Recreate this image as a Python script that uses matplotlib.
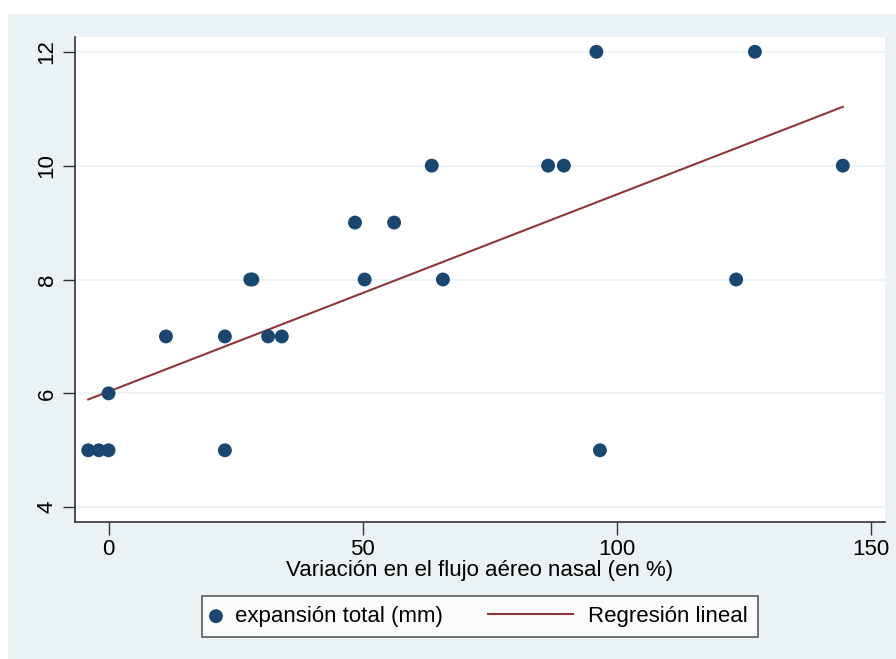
import matplotlib

matplotlib.use("Agg")
import matplotlib.pyplot as plt
import numpy as np
from matplotlib.legend_handler import HandlerLine2D
from matplotlib.patches import Rectangle

plt.rcParams["font.family"] = ["Liberation Sans", "DejaVu Sans"]

# flujo aéreo nasal (%) vs expansión total (mm)
flujo = [-4.0, -1.9, 0.0, 22.9, 96.7,
         0.0,
         11.3, 22.9, 31.4, 34.1,
         27.9, 28.3, 50.4, 65.8, 123.5,
         48.5, 56.2,
         63.6, 86.5, 89.6, 144.5,
         96.0, 127.2]
expansion = [5, 5, 5, 5, 5,
             6,
             7, 7, 7, 7,
             8, 8, 8, 8, 8,
             9, 9,
             10, 10, 10, 10,
             12, 12]
x_ticks = [0, 50, 100, 150]
y_ticks = [4, 6, 8, 10, 12]

bg = "#eaf2f3"
navy = "#1a476f"
maroon = "#90353b"
FS = 16


class LongLineHandler(HandlerLine2D):
    # line sample reaches back into the column gap, like Stata's legend keys
    def get_xdata(self, legend, xdescent, ydescent, width, height, fontsize):
        x0 = -xdescent + width - 61.0
        return [x0, -xdescent + width], [x0, -xdescent + width]


fig = plt.figure(figsize=(8.96, 6.59), dpi=100)
fig.patch.set_facecolor("white")
fig.patches.append(Rectangle((8 / 896, 0), 1 - 8 / 896, 1 - 14 / 659,
                             transform=fig.transFigure, facecolor=bg,
                             edgecolor="none", zorder=-10))

ax = fig.add_axes([75 / 896, 1 - 522 / 659, 810 / 896, 485 / 659])
ax.set_facecolor("white")

slope, intercept = np.polyfit(flujo, expansion, 1)
xs = np.array([min(flujo), max(flujo)])

ax.scatter(flujo, expansion, s=100, color=navy, edgecolors="none", zorder=3,
           label="expansión total (mm)")
fit_line, = ax.plot(xs, intercept + slope * xs, color=maroon, linewidth=1.5,
                    zorder=2, label="Regresión lineal")

ax.set_xlim(-6.6, 152.8)
ax.set_ylim(3.74, 12.26)
ax.set_xticks(x_ticks)
ax.set_yticks(y_ticks)
ax.tick_params(axis="both", labelsize=FS, length=9, width=1, color="#333333")
plt.setp(ax.get_yticklabels(), rotation=90, va="center")
ax.grid(axis="y", color=bg, linewidth=1.2)
ax.set_axisbelow(True)
for side in ("top", "right"):
    ax.spines[side].set_visible(False)
for side in ("left", "bottom"):
    ax.spines[side].set_color("#333333")
    ax.spines[side].set_linewidth(1.2)

ax.set_xlabel("Variación en el flujo aéreo nasal (en %)", fontsize=FS, labelpad=0)

leg = fig.legend(loc="center", bbox_to_anchor=(480 / 896, 1 - 616.5 / 659),
                 ncol=2, fontsize=FS, frameon=True, fancybox=False,
                 handlelength=0.36, columnspacing=5.5, borderpad=0.45,
                 handletextpad=0.68, handler_map={fit_line: LongLineHandler()})
leg.get_frame().set_edgecolor("#333333")
leg.get_frame().set_linewidth(1.2)

fig.savefig("out.png", dpi=100, facecolor="white")
